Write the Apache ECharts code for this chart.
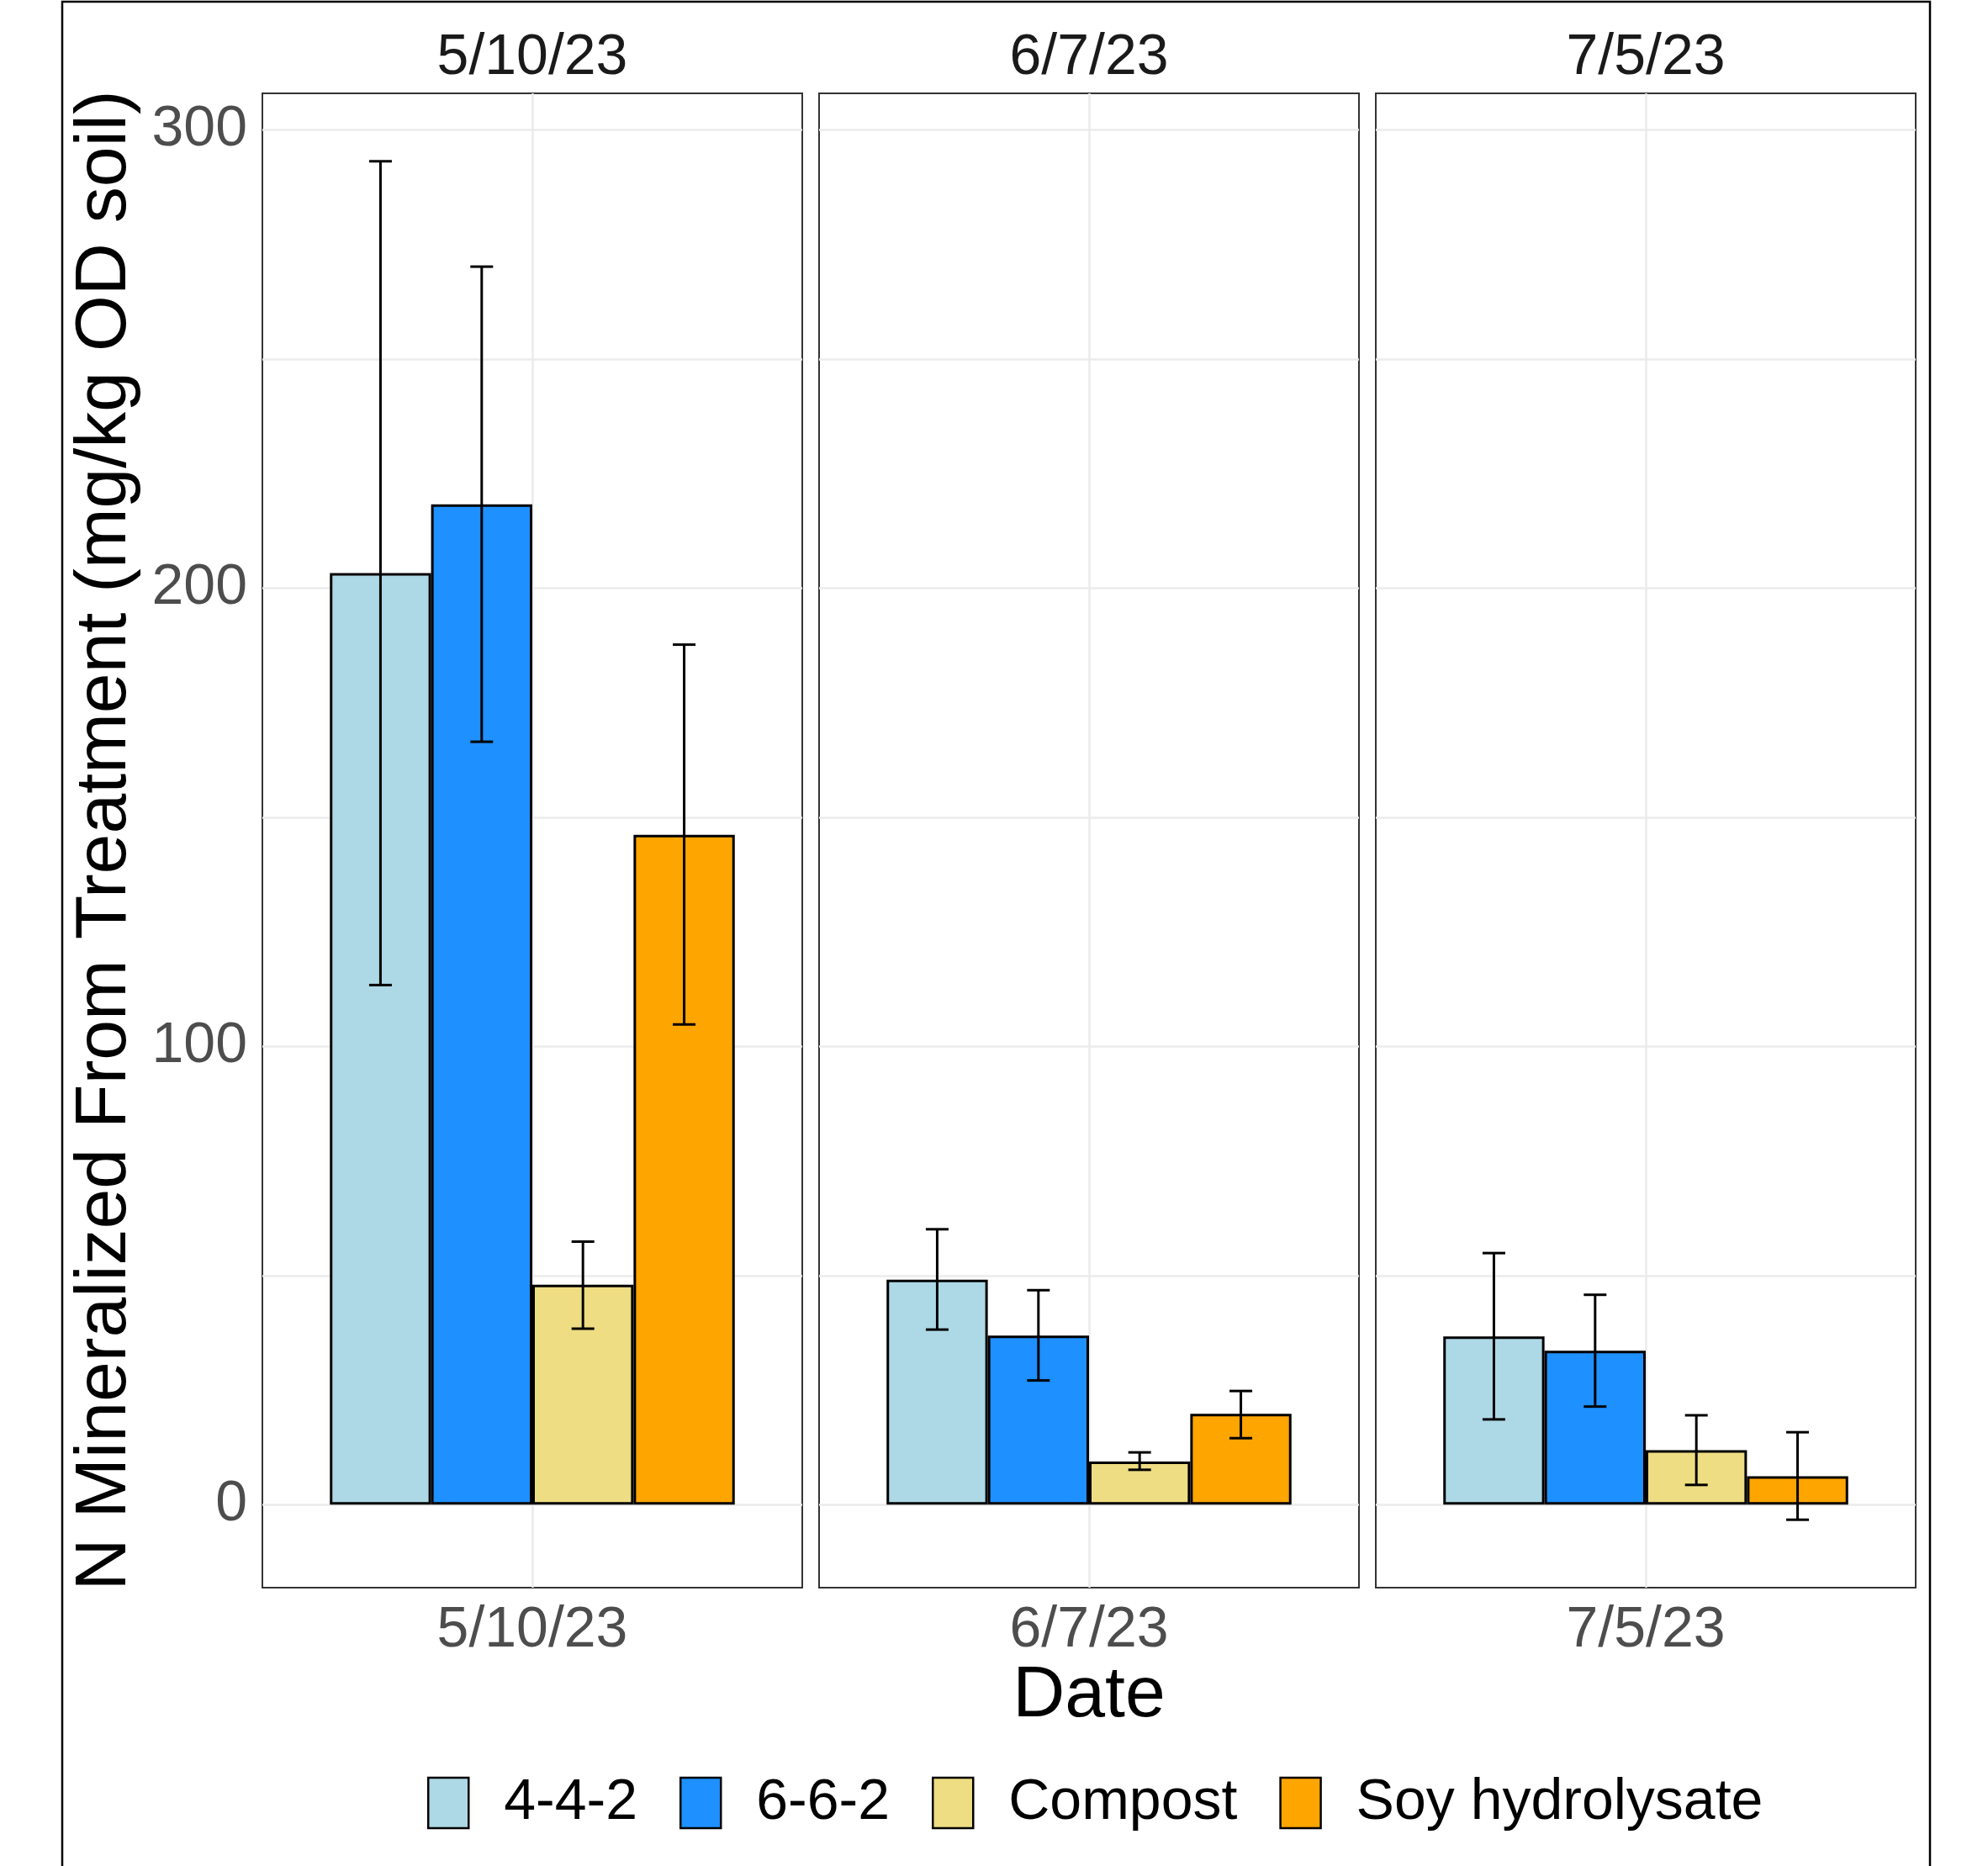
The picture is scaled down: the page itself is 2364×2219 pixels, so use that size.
<!DOCTYPE html>
<html><head><meta charset="utf-8">
<script src="https://cdn.jsdelivr.net/npm/echarts/dist/echarts.min.js"></script>
<style>html,body{margin:0;padding:0;background:#fff}#chart{width:2364px;height:2219px}</style>
</head><body><div id="chart"></div>
<script>
// ---- data ----
const dates = ['5/10/23', '6/7/23', '7/5/23'];
const treatments = ['4-4-2', '6-6-2', 'Compost', 'Soy hydrolysate'];
const mean442 = [203.3, 49.1, 36.7];
const mean662 = [218.3, 36.9, 33.6];
const meanCompost = [48.0, 9.4, 11.9];
const meanSoy = [146.2, 19.8, 6.2];
const low442 = [113.4, 38.2, 18.6];
const high442 = [293.2, 60.1, 54.9];
const low662 = [166.5, 27.1, 21.4];
const high662 = [270.2, 46.8, 45.8];
const lowCompost = [38.4, 7.6, 4.3];
const highCompost = [57.4, 11.4, 19.5];
const lowSoy = [104.8, 14.5, -3.3];
const highSoy = [187.7, 24.8, 15.8];
const yTickLabels = [0, 100, 200, 300];

const means = [mean442, mean662, meanCompost, meanSoy];
const lows = [low442, low662, lowCompost, lowSoy];
const highs = [high442, high662, highCompost, highSoy];
const colors = ['#ADD8E6', '#1E90FF', '#EEDD82', '#FFA500'];

const FONT = '"Liberation Sans", Arial, Helvetica, sans-serif';
const allLow = Math.min(...lows.flat(), 0);
const allHigh = Math.max(...highs.flat());
const pad = (allHigh - allLow) * 0.05;
const yMin = allLow - pad, yMax = allHigh + pad;

const gridLeft = [312, 974, 1636];
const gridW = 642, gridTop = 111, gridH = 1777;
const gridLineStyle = { color: '#EBEBEB', width: 2.5 };

const grids = [], xAxes = [], yAxes = [], series = [], graphics = [];
dates.forEach((d, g) => {
  grids.push({ left: gridLeft[g], top: gridTop, width: gridW, height: gridH,
    show: true, borderColor: '#333333', borderWidth: 2, backgroundColor: 'transparent' });
  // category axis for bars
  xAxes.push({ type: 'category', gridIndex: g, data: [d],
    axisLine: { show: false }, axisTick: { show: false }, splitLine: { show: false },
    axisLabel: { fontSize: 68, color: '#4D4D4D', fontFamily: FONT, margin: 17 } });
  // hidden value axis for the vertical gridline at the category centre
  xAxes.push({ type: 'value', gridIndex: g, min: 0, max: 2, interval: 1,
    axisLine: { show: false }, axisTick: { show: false }, axisLabel: { show: false },
    splitLine: { show: true, showMinLine: false, showMaxLine: false, lineStyle: gridLineStyle } });
  yAxes.push({ type: 'value', gridIndex: g, min: yMin, max: yMax, splitNumber: 6,
    axisLine: { show: false }, axisTick: { show: false },
    axisLabel: { show: g === 0, fontSize: 68, color: '#4D4D4D', fontFamily: FONT, margin: 18,
      formatter: v => (yTickLabels.some(t => Math.abs(t - v) < 1e-6) ? String(Math.round(v)) : '') },
    splitLine: { show: true, showMinLine: false, showMaxLine: false, lineStyle: gridLineStyle } });

  treatments.forEach((t, k) => {
    series.push({ type: 'bar', name: t, xAxisIndex: 2 * g, yAxisIndex: g,
      data: [means[k][g]], barGap: '0%', barCategoryGap: '25%',
      itemStyle: { color: colors[k], borderColor: '#000', borderWidth: 3 },
      emphasis: { disabled: true }, z: 3 });
  });
  series.push({ type: 'custom', name: 'err' + g, xAxisIndex: 2 * g, yAxisIndex: g, z: 6,
    encode: { x: 0, y: [1, 2] },
    data: treatments.map((t, k) => [0, lows[k][g], highs[k][g], k]),
    renderItem: (params, api) => {
      const k = api.value(3);
      const lo = api.coord([api.value(0), api.value(1)]);
      const hi = api.coord([api.value(0), api.value(2)]);
      const band = api.size([1, 0])[0];
      const bw = band * 0.75 / 4;
      const cx = lo[0] + (k - 1.5) * bw;
      const cap = 13.5;
      const st = { stroke: '#000', lineWidth: 3 };
      return { type: 'group', children: [
        { type: 'line', shape: { x1: cx, y1: hi[1], x2: cx, y2: lo[1] }, style: st },
        { type: 'line', shape: { x1: cx - cap, y1: hi[1], x2: cx + cap, y2: hi[1] }, style: st },
        { type: 'line', shape: { x1: cx - cap, y1: lo[1], x2: cx + cap, y2: lo[1] }, style: st }
      ] };
    } });

  graphics.push({ type: 'text', x: gridLeft[g] + gridW / 2, y: 69,
    style: { text: d, font: '68px ' + FONT, fill: '#1A1A1A', textAlign: 'center', textVerticalAlign: 'middle' } });
});

graphics.push({ type: 'rect', shape: { x: 74, y: 2, width: 2221, height: 2300 },
  style: { fill: 'none', stroke: '#000', lineWidth: 2.5 }, z: 100 });
graphics.push({ type: 'text', x: 125, y: gridTop + gridH / 2, rotation: Math.PI / 2,
  style: { text: 'N Mineralized From Treatment (mg/kg OD soil)', font: '86px ' + FONT, fill: '#000',
    textAlign: 'center', textVerticalAlign: 'middle' } });
graphics.push({ type: 'text', x: gridLeft[0] + (gridLeft[2] + gridW - gridLeft[0]) / 2, y: 2017,
  style: { text: 'Date', font: '86px ' + FONT, fill: '#000', textAlign: 'center', textVerticalAlign: 'middle' } });

const chart = echarts.init(document.getElementById('chart'), null, { renderer: 'canvas' });
chart.setOption({
  animation: false,
  backgroundColor: '#fff',
  grid: grids, xAxis: xAxes, yAxis: yAxes, series: series,
  legend: { data: treatments, left: 503, top: 2105, orient: 'horizontal', icon: 'rect',
    itemWidth: 48, itemHeight: 60, itemGap: 50,
    itemStyle: { borderColor: '#000', borderWidth: 2.5 },
    textStyle: { fontSize: 68, color: '#000', fontFamily: FONT, padding: [0, 0, 0, 37] } },
  graphic: graphics
});
</script></body></html>
